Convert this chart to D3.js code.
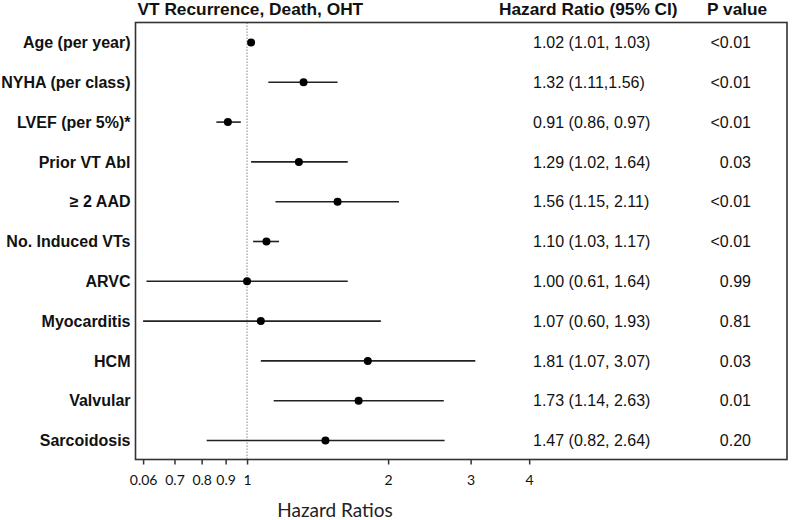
<!DOCTYPE html>
<html><head><meta charset="utf-8">
<script src="https://cdn.jsdelivr.net/npm/d3@7"></script>
<style>body{margin:0;background:#fff}</style>
</head><body>
<svg id="c" width="800" height="520"></svg>
<script>
const categories = ["Age (per year)","NYHA (per class)","LVEF (per 5%)*","Prior VT Abl","\u2265 2 AAD","No. Induced VTs","ARVC","Myocarditis","HCM","Valvular","Sarcoidosis"];
const hr    = [1.02,1.32,0.91,1.29,1.56,1.10,1.00,1.07,1.81,1.73,1.47];
const lower = [1.01,1.11,0.86,1.02,1.15,1.03,0.61,0.60,1.07,1.14,0.82];
const upper = [1.03,1.56,0.97,1.64,2.11,1.17,1.64,1.93,3.07,2.63,2.64];
const hrText = ["1.02 (1.01, 1.03)","1.32 (1.11,1.56)","0.91 (0.86, 0.97)","1.29 (1.02, 1.64)","1.56 (1.15, 2.11)","1.10 (1.03, 1.17)","1.00 (0.61, 1.64)","1.07 (0.60, 1.93)","1.81 (1.07, 3.07)","1.73 (1.14, 2.63)","1.47 (0.82, 2.64)"];
const pText = ["<0.01","<0.01","<0.01","0.03","<0.01","<0.01","0.99","0.81","0.03","0.01","0.20"];
const tickValues = [0.6,0.7,0.8,0.9,1,2,3,4];
const tickLabels = ["0.06","0.7","0.8","0.9","1","2","3","4"];

const svg = d3.select("#c");
const box = {l:135.5, r:787, t:22.5, b:459.5};
const x = d3.scaleLog().domain([0.578, 14.2]).range([box.l, box.r]);
const y = d3.scalePoint().domain(categories).range([42.5, 440.5]);

// reference line at 1
svg.append("line").attr("x1", x(1)).attr("x2", x(1)).attr("y1", box.t).attr("y2", box.b)
  .attr("stroke", "#888").attr("stroke-width", 1).attr("stroke-dasharray", "1.5,1.5");

// box
svg.append("rect").attr("x", box.l).attr("y", box.t).attr("width", box.r-box.l).attr("height", box.b-box.t)
  .attr("fill", "none").attr("stroke", "#333").attr("stroke-width", 1.6);

// axis
const axis = d3.axisBottom(x).tickValues(tickValues).tickSize(5).tickPadding(11)
  .tickFormat((d,i)=>tickLabels[i]);
const ax = svg.append("g").attr("transform", `translate(0,${box.b})`).call(axis);
ax.select(".domain").remove();
ax.selectAll(".tick line").attr("stroke", "#333").attr("stroke-width", 1.5);
ax.selectAll(".tick text").attr("font-family", "Lato, 'Open Sans', sans-serif").attr("font-size", 14).attr("fill", "#111");

// CI lines and points
const rows = categories.map((c,i)=>({c, hr:hr[i], lo:lower[i], hi:upper[i], t:hrText[i], p:pText[i]}));
svg.append("g").selectAll("line").data(rows).join("line")
  .attr("x1", d=>x(d.lo)).attr("x2", d=>x(d.hi)).attr("y1", d=>y(d.c)).attr("y2", d=>y(d.c))
  .attr("stroke", "#222").attr("stroke-width", 1.6);
svg.append("g").selectAll("circle").data(rows).join("circle")
  .attr("cx", d=>x(d.hr)).attr("cy", d=>y(d.c)).attr("r", 4).attr("fill", "#000");

// row labels
svg.append("g").selectAll("text").data(rows).join("text")
  .attr("x", 130.5).attr("y", d=>y(d.c)).attr("dy", "0.35em").attr("text-anchor", "end")
  .attr("font-family", "'Liberation Sans', Arial, sans-serif").attr("font-weight", "bold").attr("font-size", 16)
  .attr("fill", "#111").text(d=>d.c);

// HR text
svg.append("g").selectAll("text").data(rows).join("text")
  .attr("x", 533).attr("y", d=>y(d.c)).attr("dy", "0.35em")
  .attr("font-family", "'Liberation Sans', Arial, sans-serif").attr("font-size", 16)
  .attr("fill", "#111").text(d=>d.t);

// P text
svg.append("g").selectAll("text").data(rows).join("text")
  .attr("x", 751).attr("y", d=>y(d.c)).attr("dy", "0.35em").attr("text-anchor", "end")
  .attr("font-family", "'Liberation Sans', Arial, sans-serif").attr("font-size", 16)
  .attr("fill", "#111").text(d=>d.p);

// headers
const hdr = (t, xx, anchor) => svg.append("text").attr("x", xx).attr("y", 15).attr("text-anchor", anchor)
  .attr("font-family", "'Liberation Sans', Arial, sans-serif").attr("font-weight", "bold").attr("font-size", 17.3)
  .attr("fill", "#111").text(t);
hdr("VT Recurrence, Death, OHT", 137.5, "start");
hdr("Hazard Ratio (95% CI)", 499, "start");
hdr("P value", 707, "start");

// x title
svg.append("text").attr("x", 335).attr("y", 517).attr("text-anchor", "middle")
  .attr("font-family", "Lato, 'Open Sans', sans-serif").attr("font-size", 19).attr("fill", "#222")
  .text("Hazard Ratios");
</script>
</body></html>
